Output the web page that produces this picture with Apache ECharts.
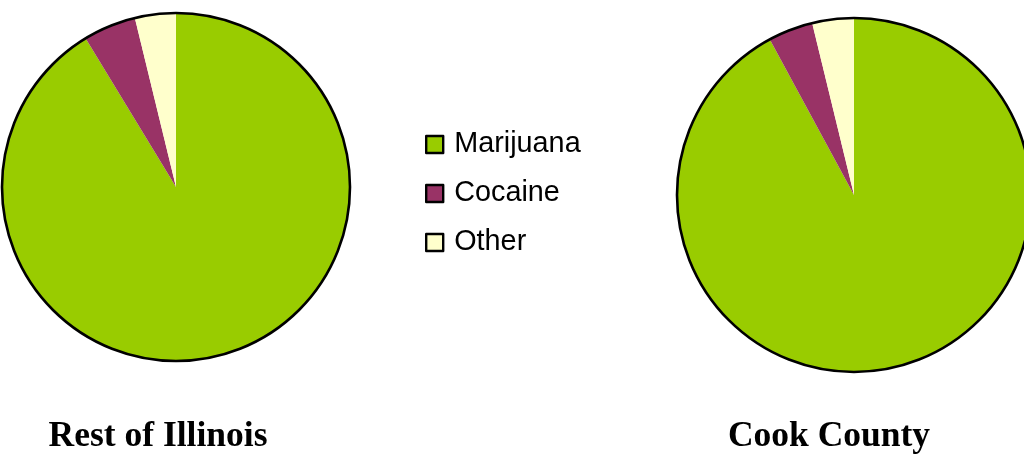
<!DOCTYPE html>
<html>
<head>
<meta charset="utf-8">
<script src="https://cdn.jsdelivr.net/npm/echarts@6/dist/echarts.min.js"></script>
<style>
html,body{margin:0;padding:0;background:#fff;}
#c{width:1024px;height:457px;}
</style>
</head>
<body>
<div id="c"></div>
<script>
const categories = ['Marijuana', 'Cocaine', 'Other'];
const restOfIllinois = [91.3, 4.9, 3.8];
const cookCounty = [92.1, 4.1, 3.8];
const pieTitles = ['Rest of Illinois', 'Cook County'];
const colors = ['#99CC00', '#993366', '#FFFFCC'];

const chart = echarts.init(document.getElementById('c'), null, {renderer: 'canvas'});

function pieSeries(values, center, radius) {
  return {
    type: 'pie',
    center: center,
    radius: radius,
    startAngle: 90,
    clockwise: true,
    silent: true,
    label: {show: false},
    labelLine: {show: false},
    emphasis: {disabled: true},
    itemStyle: {borderWidth: 0},
    data: categories.map((c, i) => ({name: c, value: values[i], itemStyle: {color: colors[i]}}))
  };
}
function outlineSeries(center, radius) {
  return {
    type: 'pie',
    center: center,
    radius: radius,
    silent: true,
    label: {show: false},
    labelLine: {show: false},
    emphasis: {disabled: true},
    itemStyle: {color: 'rgba(0,0,0,0)', borderColor: '#000', borderWidth: 2.6},
    data: [{name: 'outline', value: 1}]
  };
}

const option = {
  animation: false,
  backgroundColor: '#fff',
  title: [
    {text: pieTitles[0], left: 153, top: 414, textAlign: 'center',
     textStyle: {fontFamily: 'Liberation Serif', fontWeight: 'bold', fontSize: 35.5, color: '#000'}},
    {text: pieTitles[1], left: 824, top: 414, textAlign: 'center',
     textStyle: {fontFamily: 'Liberation Serif', fontWeight: 'bold', fontSize: 35.5, color: '#000'}}
  ],
  legend: {
    orient: 'vertical',
    left: 420,
    top: 125,
    data: categories,
    icon: 'rect',
    itemWidth: 17,
    itemHeight: 17,
    itemGap: 20,
    itemStyle: {borderColor: '#000', borderWidth: 2.4},
    textStyle: {fontFamily: 'Liberation Sans', fontSize: 28.8, color: '#000', padding: [0, 0, 0, 6]},
    selectedMode: false
  },
  series: [
    pieSeries(restOfIllinois, [176, 187], ['0%', 174]),
    outlineSeries([176, 187], ['0%', 174]),
    pieSeries(cookCounty, [854, 195], ['0%', 177]),
    outlineSeries([854, 195], ['0%', 177])
  ]
};
chart.setOption(option);
</script>
</body>
</html>
